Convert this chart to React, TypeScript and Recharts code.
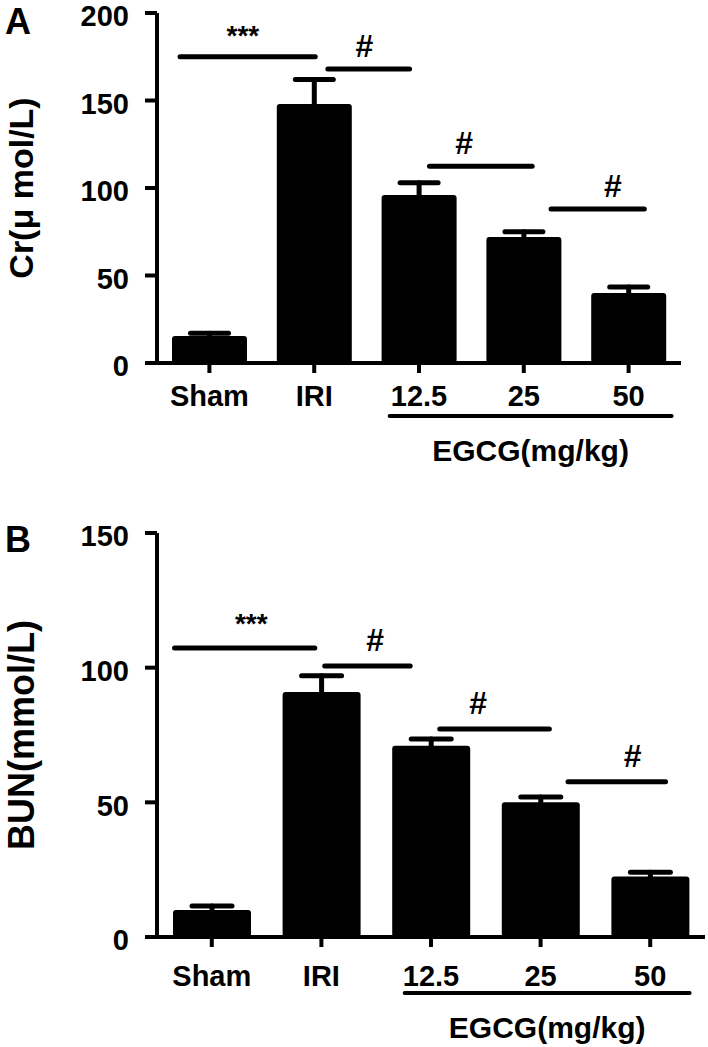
import React from "react";
import { Bar, BarChart, ErrorBar, ReferenceDot, ReferenceLine, XAxis, YAxis } from "recharts";

const groups = ["Sham", "IRI", "12.5", "25", "50"];

// Panel A — serum creatinine
const crMean = [15.5, 148, 96, 72, 40];
const crErr = [1.5, 14, 7, 3, 3.5];
const crTicks = [0, 50, 100, 150, 200];

// Panel B — blood urea nitrogen
const bunMean = [10, 91, 71, 50, 22.5];
const bunErr = [1.5, 6, 2.5, 2, 1.5];
const bunTicks = [0, 50, 100, 150];

// significance brackets: from/to/at in group-index units, y in axis units
const crMarks = [
  { from: -0.28, to: 1.01, y: 175, at: 0.32, text: "***" },
  { from: 1.13, to: 1.91, y: 168, at: 1.48, text: "#" },
  { from: 2.1, to: 3.08, y: 112.5, at: 2.43, text: "#" },
  { from: 3.26, to: 4.15, y: 88, at: 3.85, text: "#" },
];
const bunMarks = [
  { from: -0.34, to: 0.94, y: 107.3, at: 0.36, text: "***" },
  { from: 1.03, to: 1.81, y: 100.6, at: 1.49, text: "#" },
  { from: 2.08, to: 3.08, y: 77.2, at: 2.43, text: "#" },
  { from: 3.25, to: 4.14, y: 57.6, at: 3.84, text: "#" },
];

// EGCG dose groups underline
const crDose = { from: 1.72, to: 4.41, y: -30.3 };
const bunDose = { from: 1.76, to: 4.36, y: -20.8 };

const FONT = "'Liberation Sans', Arial, Helvetica, sans-serif";

const YTitle = ({ viewBox, value, size, baseX }: any) => {
  const cy = viewBox.y + viewBox.height / 2;
  return (
    <text
      transform={`translate(${baseX},${cy}) rotate(-90)`}
      textAnchor="middle"
      fontSize={size}
      fontWeight="bold"
      fontFamily={FONT}
      fill="#000"
    >
      {value}
    </text>
  );
};

type PanelProps = {
  mean: number[];
  err: number[];
  ticks: number[];
  marks: { from: number; to: number; y: number; at: number; text: string }[];
  dose: { from: number; to: number; y: number };
  title: string;
  titleSize: number;
  titleX: number;
  height: number;
  right: number;
  bottom: number;
  barSize: number;
  capWidth: number;
  tickGap: number;
  markGap: number;
};

function Panel(p: PanelProps) {
  const data = groups.map((g, i) => ({ i, name: g, v: p.mean[i], e: p.err[i] }));
  const tickStyle = { fill: "#000", fontSize: 29, fontWeight: "bold", fontFamily: FONT };
  const axisStroke = { stroke: "#000", strokeWidth: 4 };

  return (
    <BarChart
      width={708}
      height={p.height}
      data={data}
      margin={{ top: 13, right: p.right, bottom: p.bottom, left: 0 }}
    >
      <XAxis
        type="number"
        dataKey="i"
        domain={[-0.5, 4.5]}
        ticks={[0, 1, 2, 3, 4]}
        interval={0}
        tickFormatter={(i: number) => groups[i]}
        axisLine={axisStroke}
        tickLine={axisStroke}
        tickSize={10}
        tickMargin={p.tickGap}
        tick={tickStyle}
        height={40}
      />
      <YAxis
        type="number"
        domain={[0, p.ticks[p.ticks.length - 1]]}
        ticks={p.ticks}
        interval={0}
        width={157}
        axisLine={axisStroke}
        tickLine={axisStroke}
        tickSize={12}
        tickMargin={16}
        tick={{ ...tickStyle, dy: 3 }}
        label={(props: any) => (
          <YTitle {...props} value={p.title} size={p.titleSize} baseX={p.titleX} />
        )}
      />
      <Bar dataKey="v" fill="#000" barSize={p.barSize} radius={3} isAnimationActive={false}>
        <ErrorBar dataKey="e" width={p.capWidth} strokeWidth={5} stroke="#000" strokeLinecap="round" />
      </Bar>
      {p.marks.map((m, k) => (
        <ReferenceLine
          key={`l${k}`}
          segment={[
            { x: m.from, y: m.y },
            { x: m.to, y: m.y },
          ]}
          stroke="#000"
          strokeWidth={5}
          strokeLinecap="round"
          ifOverflow="visible"
        />
      ))}
      {p.marks.map((m, k) => (
        <ReferenceDot
          key={`t${k}`}
          x={m.at}
          y={m.y}
          r={0}
          fill="none"
          stroke="none"
          ifOverflow="visible"
          label={{
            value: m.text,
            position: "top",
            offset: p.markGap,
            fill: "#000",
            fontSize: m.text === "#" ? 32 : 28,
            fontWeight: "bold",
            fontFamily: FONT,
          }}
        />
      ))}
      <ReferenceLine
        segment={[
          { x: p.dose.from, y: p.dose.y },
          { x: p.dose.to, y: p.dose.y },
        ]}
        stroke="#000"
        strokeWidth={4}
        strokeLinecap="round"
        ifOverflow="visible"
        label={{
          value: "EGCG(mg/kg)",
          position: "bottom",
          offset: 24,
          fill: "#000",
          fontSize: 30,
          fontWeight: "bold",
          fontFamily: FONT,
        }}
      />
    </BarChart>
  );
}

const letter: React.CSSProperties = {
  position: "absolute",
  left: 5,
  fontFamily: FONT,
  fontWeight: "bold",
  fontSize: 36,
  lineHeight: 1,
  color: "#000",
};

export default function App() {
  return (
    <div style={{ position: "absolute", left: 0, top: 0, width: 708, height: 1047, background: "#fff" }}>
      <div style={{ position: "absolute", left: 0, top: 0 }}>
        <Panel
          mean={crMean}
          err={crErr}
          ticks={crTicks}
          marks={crMarks}
          dose={crDose}
          title="Cr(μ mol/L)"
          titleSize={34}
          titleX={33}
          height={520}
          right={27}
          bottom={117}
          barSize={75}
          capWidth={19}
          tickGap={12}
          markGap={12}
        />
      </div>
      <div style={{ position: "absolute", left: 0, top: 520 }}>
        <Panel
          mean={bunMean}
          err={bunErr}
          ticks={bunTicks}
          marks={bunMarks}
          dose={bunDose}
          title="BUN(mmol/L)"
          titleSize={36}
          titleX={34}
          height={527}
          right={3}
          bottom={70}
          barSize={78}
          capWidth={20}
          tickGap={18}
          markGap={15}
        />
      </div>
      <div style={{ ...letter, top: 4 }}>A</div>
      <div style={{ ...letter, top: 522 }}>B</div>
    </div>
  );
}
